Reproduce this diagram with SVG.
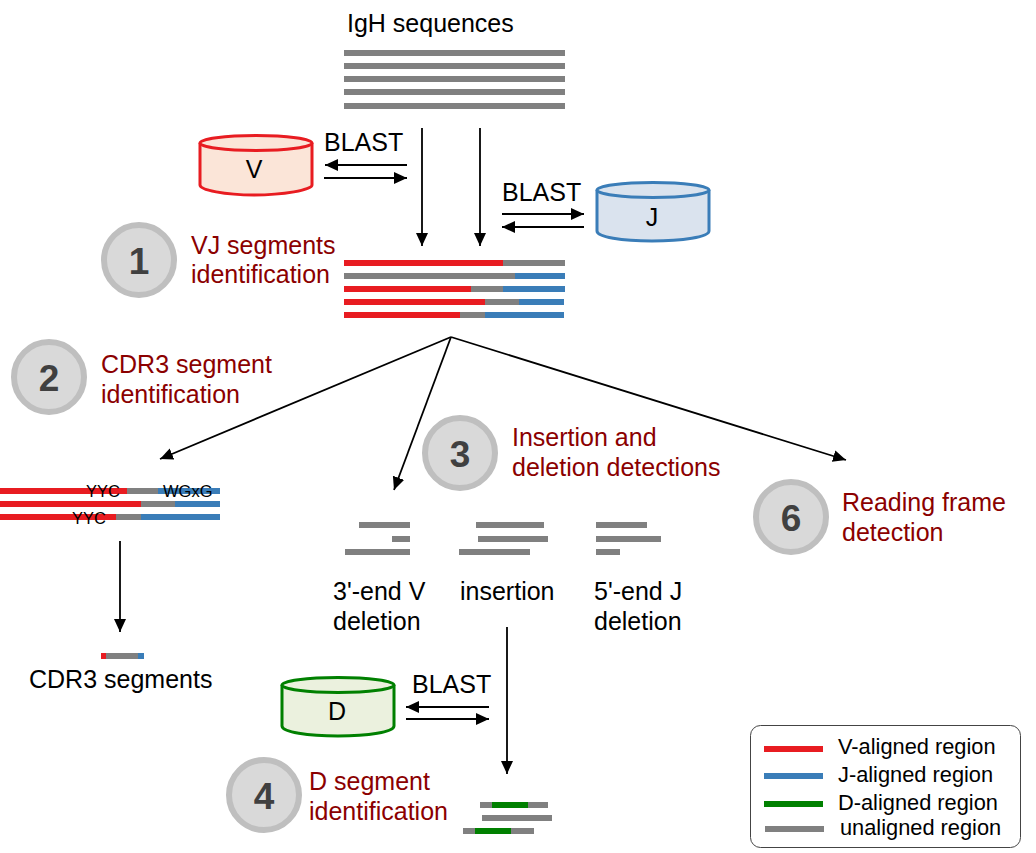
<svg xmlns="http://www.w3.org/2000/svg" width="1036" height="853" viewBox="0 0 1036 853">
<style>
text{font-family:"Liberation Sans",Arial,sans-serif;font-size:25px;fill:#000}
.r{font-size:25px;fill:#8b0000}
.l{font-size:21.800px}
.s{font-size:16.500px}
.n{font-size:37px;font-weight:bold;fill:#404040;text-anchor:middle}
.u{fill:#808080}.v{fill:#e81c21}.j{fill:#3a7db8}.d{fill:#008000}
.c{fill:#d9d9d9;stroke:#bfbfbf;stroke-width:6}
.a{stroke:#000;stroke-width:1.8;fill:none;marker-end:url(#ah)}
</style>
<defs>
<marker id="ah" markerUnits="userSpaceOnUse" markerWidth="14" markerHeight="14" refX="13" refY="6" orient="auto"><path d="M0 0L13 6L0 12Z" fill="#000"/></marker>
</defs>
<rect width="1036" height="853" fill="#fff"/>

<g id="title"><text x="347" y="32">IgH sequences</text></g>
<g id="input-sequences">
<rect class="u" x="344" y="50" width="221" height="6"/>
<rect class="u" x="344" y="63" width="221" height="6"/>
<rect class="u" x="344" y="76" width="221" height="6"/>
<rect class="u" x="344" y="89" width="221" height="6"/>
<rect class="u" x="344" y="103" width="221" height="6"/>
</g>

<g id="connectors">
<path class="a" d="M422 128V246"/>
<path class="a" d="M480 128V246"/>
<path class="a" d="M407 165H325"/>
<path class="a" d="M324 178H407"/>
<path class="a" d="M502 214H584"/>
<path class="a" d="M584 227H502"/>
<path d="M451 337L160 459" class="a"/>
<path d="M451 337L394 490" class="a"/>
<path d="M451 337L846 460" class="a"/>
<path class="a" d="M120 541V632"/>
<path class="a" d="M507 627V774"/>
<path class="a" d="M489 707H406"/>
<path class="a" d="M406 719H489"/>
</g>

<g id="db-v">
<path d="M200 143V185C200 190 225 195 254 195S312 190 312 185V143" fill="#fbe5d8" stroke="#e81c21" stroke-width="3"/>
<ellipse cx="256" cy="143" rx="56" ry="7.500" fill="#fbe5d8" stroke="#e81c21" stroke-width="3"/>
<text x="254" y="178" text-anchor="middle">V</text>
</g>
<g id="db-j">
<path d="M597 190V231C597 237 622 241 652 241S709 237 709 231V190" fill="#dae3ee" stroke="#3a7db8" stroke-width="3"/>
<ellipse cx="653" cy="190" rx="56" ry="7.500" fill="#dae3ee" stroke="#3a7db8" stroke-width="3"/>
<text x="652" y="226" text-anchor="middle">J</text>
</g>
<g id="db-d">
<path d="M282 685V726C282 732 308 736 338 736S394 732 394 726V685" fill="#ebf1de" stroke="#008000" stroke-width="3"/>
<ellipse cx="338" cy="685" rx="56" ry="7.500" fill="#ebf1de" stroke="#008000" stroke-width="3"/>
<text x="337" y="720" text-anchor="middle">D</text>
</g>

<g id="blast-labels">
<text x="324" y="151">BLAST</text>
<text x="502" y="201">BLAST</text>
<text x="412" y="693">BLAST</text>
</g>

<g id="step-1"><circle class="c" cx="139" cy="260" r="35"/><text class="n" x="139" y="274">1</text>
<text class="r" x="191" y="254">VJ segments</text><text class="r" x="191" y="283">identification</text></g>
<g id="step-2"><circle class="c" cx="49" cy="377" r="35"/><text class="n" x="49" y="391">2</text>
<text class="r" x="101" y="373">CDR3 segment</text><text class="r" x="101" y="403">identification</text></g>
<g id="step-3"><circle class="c" cx="460" cy="453" r="35"/><text class="n" x="460" y="467">3</text>
<text class="r" x="512" y="446">Insertion and</text><text class="r" x="512" y="476">deletion detections</text></g>
<g id="step-4"><circle class="c" cx="264" cy="795" r="35"/><text class="n" x="264" y="809">4</text>
<text class="r" x="309" y="790">D segment</text><text class="r" x="309" y="820">identification</text></g>
<g id="step-6"><circle class="c" cx="791" cy="517" r="35"/><text class="n" x="791" y="531">6</text>
<text class="r" x="842" y="511">Reading frame</text><text class="r" x="842" y="541">detection</text></g>

<g id="vj-aligned">
<rect class="v" x="344" y="260" width="159" height="6"/><rect class="u" x="503" y="260" width="62" height="6"/>
<rect class="u" x="344" y="273" width="171" height="6"/><rect class="j" x="515" y="273" width="50" height="6"/>
<rect class="v" x="344" y="286" width="127" height="6"/><rect class="u" x="471" y="286" width="32" height="6"/><rect class="j" x="503" y="286" width="62" height="6"/>
<rect class="v" x="344" y="299" width="141" height="6"/><rect class="u" x="485" y="299" width="34" height="6"/><rect class="j" x="519" y="299" width="45" height="6"/>
<rect class="v" x="344" y="312" width="116" height="6"/><rect class="u" x="460" y="312" width="25" height="6"/><rect class="j" x="485" y="312" width="79" height="6"/>
</g>

<g id="cdr3-reads">
<rect class="v" x="0" y="488" width="127" height="6"/><rect class="u" x="127" y="488" width="31" height="6"/><rect class="j" x="158" y="488" width="62" height="6"/>
<rect class="v" x="0" y="501" width="141" height="6"/><rect class="u" x="141" y="501" width="34" height="6"/><rect class="j" x="175" y="501" width="45" height="6"/>
<rect class="v" x="0" y="514" width="116" height="6"/><rect class="u" x="116" y="514" width="25" height="6"/><rect class="j" x="141" y="514" width="79" height="6"/>
<text class="s" x="86" y="497">YYC</text>
<text class="s" x="163" y="497">WGxG</text>
<text class="s" x="72" y="524">YYC</text>
</g>
<g id="cdr3-segment">
<rect class="v" x="101" y="653" width="5" height="6"/><rect class="u" x="106" y="653" width="32" height="6"/><rect class="j" x="138" y="653" width="6" height="6"/>
<text x="29" y="688">CDR3 segments</text>
</g>

<g id="v-deletion">
<rect class="u" x="359" y="522" width="51" height="6"/>
<rect class="u" x="392" y="536" width="18" height="6"/>
<rect class="u" x="345" y="549" width="65" height="6"/>
<text x="333" y="600">3'-end V</text><text x="333" y="630">deletion</text>
</g>
<g id="insertion">
<rect class="u" x="476" y="522" width="68" height="6"/>
<rect class="u" x="478" y="536" width="70" height="6"/>
<rect class="u" x="459" y="549" width="71" height="6"/>
<text x="460" y="600">insertion</text>
</g>
<g id="j-deletion">
<rect class="u" x="596" y="522" width="51" height="6"/>
<rect class="u" x="596" y="536" width="65" height="6"/>
<rect class="u" x="596" y="549" width="24" height="6"/>
<text x="594" y="600">5'-end J</text><text x="594" y="630">deletion</text>
</g>

<g id="d-aligned">
<rect class="u" x="480" y="802" width="68" height="6"/><rect class="d" x="492" y="802" width="36" height="6"/>
<rect class="u" x="482" y="815" width="70" height="6"/>
<rect class="u" x="463" y="828" width="71" height="6"/><rect class="d" x="475" y="828" width="36" height="6"/>
</g>

<g id="legend">
<rect x="750.500" y="725.500" width="270" height="122" rx="10" fill="#fff" stroke="#444" stroke-width="1"/>
<rect class="v" x="764" y="746" width="59" height="6"/>
<rect class="j" x="764" y="773" width="59" height="6"/>
<rect class="d" x="764" y="801" width="59" height="6"/>
<rect class="u" x="765" y="826" width="59" height="6"/>
<text class="l" x="838" y="754">V-aligned region</text>
<text class="l" x="838" y="782">J-aligned region</text>
<text class="l" x="838" y="810">D-aligned region</text>
<text class="l" x="840" y="835">unaligned region</text>
</g>
</svg>
